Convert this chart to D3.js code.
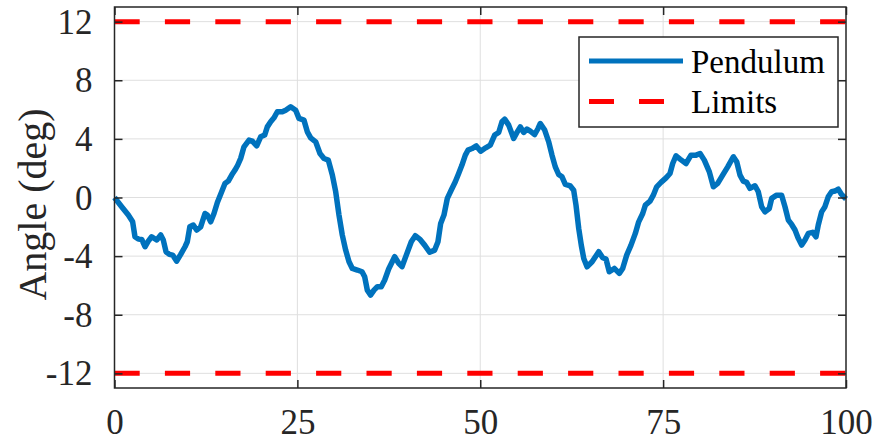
<!DOCTYPE html>
<html>
<head>
<meta charset="utf-8">
<script src="https://cdn.jsdelivr.net/npm/d3@7"></script>
<style>
  html, body { margin: 0; padding: 0; background: #fff; }
</style>
</head>
<body>
<svg id="chart" width="876" height="442"></svg>
<script>
// Pendulum angle trace (time in s, angle in degrees)
const time = [0, 0.98, 1.89, 2.48, 2.8, 3.26, 3.72, 4.17, 4.62, 5.08, 5.77, 6.32, 6.67, 7.04, 7.5, 7.95, 8.5, 9.05, 9.64, 9.95,
  10.3, 10.77, 11.23, 11.78, 12.37, 12.69, 13.15, 13.6, 14.06, 14.65, 15.1, 15.56, 16.02, 16.47, 16.84, 17.25, 17.7, 18.39, 18.84, 19.44,
  19.98, 20.53, 20.89, 21.35, 21.8, 22.26, 22.94, 23.4, 24.08, 24.77, 25.22, 25.9, 26.36, 26.82, 27.5, 28.09, 28.64, 29.23, 29.78, 30.24,
  30.69, 31.14, 31.6, 32.06, 32.51, 33.19, 33.84, 34.2, 34.56, 35.02, 35.47, 35.93, 36.47, 36.94, 37.48, 38.3, 38.85, 39.3, 39.89, 40.57,
  41.12, 41.72, 42.4, 43.08, 43.77, 44.22, 44.59, 45.04, 45.5, 46.04, 46.59, 47.05, 47.5, 47.96, 48.32, 48.87, 49.46, 50.06, 50.74, 51.37,
  51.97, 52.52, 52.97, 53.34, 53.89, 54.57, 55.02, 55.48, 55.93, 56.39, 56.84, 57.44, 57.9, 58.21, 58.81, 59.36, 59.81, 60.26, 60.72, 61.18,
  61.63, 62.31, 62.77, 63.09, 63.46, 63.81, 64.15, 64.6, 65.29, 66.2, 66.74, 67.19, 67.64, 68.33, 69.01, 69.47, 70.02, 70.61, 71.2, 71.66,
  72.21, 72.57, 73.21, 73.66, 74.12, 74.71, 75.4, 75.94, 76.31, 76.76, 77.31, 78.13, 78.81, 79.5, 80.05, 80.63, 81.32, 81.87, 82.46, 83.14,
  83.83, 84.6, 85.06, 85.51, 85.96, 86.42, 86.87, 87.56, 88.01, 88.47, 88.92, 89.51, 89.84, 90.52, 91.2, 91.66, 92.12, 92.57, 93.03, 93.48,
  93.94, 94.39, 94.85, 95.44, 95.9, 96.21, 96.67, 97.12, 97.57, 98.03, 98.48, 98.94, 99.39, 100];
const angle = [0, -0.63, -1.2, -1.66, -2.68, -2.84, -2.86, -3.36, -2.98, -2.68, -2.9, -2.56, -2.9, -3.7, -3.88, -3.93, -4.34, -3.88, -3.36, -3.02,
  -2.0, -1.88, -2.22, -2.0, -1.09, -1.2, -1.66, -1.09, -0.34, 0.39, 0.96, 1.12, 1.53, 1.87, 2.2, 2.67, 3.46, 3.92, 3.85, 3.53,
  4.14, 4.26, 4.82, 5.17, 5.44, 5.85, 5.85, 5.96, 6.19, 5.96, 5.4, 5.28, 4.48, 4.07, 3.8, 3.0, 2.66, 2.55, 1.53, 0.39,
  -1.2, -2.56, -3.59, -4.38, -4.84, -4.95, -5.07, -5.41, -6.32, -6.66, -6.32, -6.09, -6.09, -5.63, -4.88, -4.04, -4.49, -4.72, -3.93, -3.02,
  -2.61, -2.84, -3.25, -3.74, -3.59, -3.02, -1.77, -1.2, -0.06, 0.51, 1.07, 1.64, 2.21, 2.89, 3.23, 3.34, 3.52, 3.16, 3.39, 3.57,
  4.26, 4.44, 5.17, 5.35, 4.94, 4.03, 4.44, 4.82, 4.44, 4.67, 4.53, 4.3, 4.71, 5.05, 4.6, 3.8, 2.89, 2.09, 1.57, 1.41,
  0.89, 0.79, 0.5, -0.52, -2.11, -3.25, -4.16, -4.73, -4.39, -3.7, -4.11, -4.2, -5.07, -4.84, -5.18, -4.84, -3.93, -3.25, -2.45, -1.66,
  -1.09, -0.52, -0.25, 0.16, 0.73, 1.03, 1.34, 1.64, 2.32, 2.85, 2.62, 2.32, 2.89, 2.89, 3.0, 2.55, 1.75, 0.73, 0.96, 1.53,
  2.09, 2.78, 2.44, 1.53, 1.12, 1.03, 0.62, 0.8, 0.39, -0.63, -0.98, -0.75, -0.06, 0.16, 0.16, -0.63, -1.54, -1.84, -2.22, -2.79,
  -3.25, -2.9, -2.45, -2.38, -2.68, -1.88, -0.98, -0.63, 0.05, 0.39, 0.44, 0.57, 0.21, -0.1];

const upperLimit = 12;
const lowerLimit = -12;

const xTicks = [0, 25, 50, 75, 100];
const yTicks = [-12, -8, -4, 0, 4, 8, 12];
const seriesNames = ["Pendulum", "Limits"];
const yLabel = "Angle (deg)";

const blue = "#0072BD";
const red = "#FF0000";
const axisColor = "#262626";
const gridColor = "#dfdfdf";
const fontStack = "'Liberation Serif', 'Times New Roman'";

const svg = d3.select("#chart");
const plot = { left: 114.5, right: 846, top: 7, bottom: 388 };

const x = d3.scaleLinear().domain([0, 100]).range([plot.left, plot.right]);
const y = d3.scaleLinear().domain([-13, 13]).range([plot.bottom, plot.top]);

// grid lines
const grid = svg.append("g");
grid.selectAll("line.gx").data(xTicks.slice(1, -1)).join("line")
  .attr("x1", d => x(d)).attr("x2", d => x(d))
  .attr("y1", plot.top).attr("y2", plot.bottom)
  .attr("stroke", gridColor).attr("stroke-width", 1);
grid.selectAll("line.gy").data(yTicks).join("line")
  .attr("x1", plot.left).attr("x2", plot.right)
  .attr("y1", d => y(d)).attr("y2", d => y(d))
  .attr("stroke", gridColor).attr("stroke-width", 1);

// limit lines
const limits = [upperLimit, lowerLimit];
svg.append("g").selectAll("line").data(limits).join("line")
  .attr("x1", x(0)).attr("x2", x(100))
  .attr("y1", d => y(d)).attr("y2", d => y(d))
  .attr("stroke", red).attr("stroke-width", 5)
  .attr("stroke-dasharray", "25.2,25.2");

// pendulum trace
const pts = time.map((t, i) => [t, angle[i]]);
svg.append("path").datum(pts)
  .attr("d", d3.line().x(d => x(d[0])).y(d => y(d[1])).curve(d3.curveLinear))
  .attr("fill", "none").attr("stroke", blue).attr("stroke-width", 5.5)
  .attr("stroke-linejoin", "round").attr("stroke-linecap", "butt");

// axes (ticks pointing inward on all four sides)
const tickLen = 8;
const fontSize = 35;
const axB = svg.append("g").attr("transform", `translate(0,${plot.bottom})`)
  .call(d3.axisBottom(x).tickValues(xTicks).tickSizeInner(-tickLen).tickSizeOuter(0).tickFormat(d3.format("d")));
const axT = svg.append("g").attr("transform", `translate(0,${plot.top})`)
  .call(d3.axisTop(x).tickValues(xTicks).tickSizeInner(-tickLen).tickSizeOuter(0).tickFormat(""));
const axL = svg.append("g").attr("transform", `translate(${plot.left},0)`)
  .call(d3.axisLeft(y).tickValues(yTicks).tickSizeInner(-tickLen).tickSizeOuter(0).tickPadding(22).tickFormat(d => d < 0 ? "-" + Math.abs(d) : String(d)));
const axR = svg.append("g").attr("transform", `translate(${plot.right},0)`)
  .call(d3.axisRight(y).tickValues(yTicks).tickSizeInner(-tickLen).tickSizeOuter(0).tickFormat(""));

[axB, axT, axL, axR].forEach(g => {
  g.attr("font-family", null);
  g.select(".domain").remove();
  g.selectAll(".tick line").attr("stroke", axisColor).attr("stroke-width", 1.5);
  g.selectAll("text").attr("fill", axisColor).attr("font-size", fontSize)
    .style("font-family", fontStack);
});
axB.selectAll("text").attr("dy", null).attr("y", 46);
axL.selectAll("text").attr("dy", "0.33em");

// axes box
svg.append("rect")
  .attr("x", plot.left).attr("y", plot.top)
  .attr("width", plot.right - plot.left).attr("height", plot.bottom - plot.top)
  .attr("fill", "none").attr("stroke", axisColor).attr("stroke-width", 1.5);

// y-axis label
svg.append("text")
  .attr("transform", `translate(46,${(plot.top + plot.bottom) / 2 + 7}) rotate(-90)`)
  .attr("text-anchor", "middle")
  .style("font-family", fontStack)
  .attr("font-size", 40).attr("fill", axisColor)
  .text(yLabel);

// legend
const lg = svg.append("g");
lg.append("rect").attr("x", 579).attr("y", 37).attr("width", 259).attr("height", 90)
  .attr("fill", "#fff").attr("stroke", axisColor).attr("stroke-width", 1.5);
const legendRows = [
  { name: seriesNames[0], color: blue, dash: null, yc: 61, base: 72.5 },
  { name: seriesNames[1], color: red, dash: "25,25", yc: 101.5, base: 113 }
];
legendRows.forEach(r => {
  lg.append("line").attr("x1", 589).attr("x2", 683).attr("y1", r.yc).attr("y2", r.yc)
    .attr("stroke", r.color).attr("stroke-width", 5)
    .attr("stroke-dasharray", r.dash);
  lg.append("text").attr("x", 691).attr("y", r.base)
    .style("font-family", fontStack)
    .attr("font-size", 33).attr("fill", "#000").text(r.name);
});
</script>
</body>
</html>
